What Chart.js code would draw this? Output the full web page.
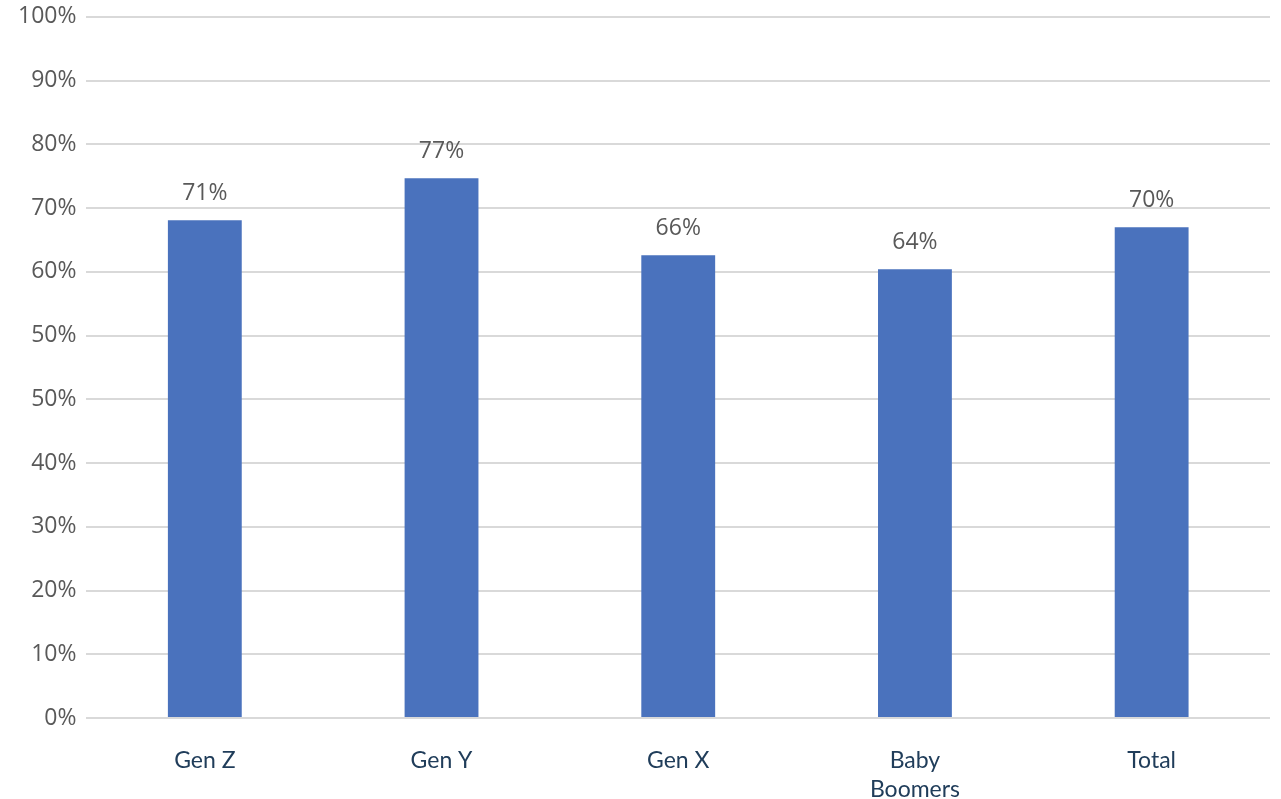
<!DOCTYPE html>
<html>
<head>
<meta charset="utf-8">
<script src="https://cdn.jsdelivr.net/npm/chart.js@4"></script>
<style>
    html, body { margin: 0; padding: 0; background: #ffffff; }
    #wrap { width: 1281px; height: 799px; position: relative; }
</style>
</head>
<body>
<div id="wrap"><canvas id="share-chart"></canvas></div>
<script>
var generations = ["Gen Z", "Gen Y", "Gen X", ["Baby", "Boomers"], "Total"];
var shareValues = [71, 77, 66, 64, 70];
var yTickLabels = ["0%", "10%", "20%", "30%", "40%", "50%", "50%", "60%", "70%", "80%", "90%", "100%"];

document.addEventListener("DOMContentLoaded", function() {
    // value labels above each bar
    var barLabels = {
        id: "barLabels",
        afterDatasetsDraw: function(chart) {
            var ctx = chart.ctx;
            var meta = chart.getDatasetMeta(0);
            ctx.save();
            ctx.font = '23px "Open Sans"';
            ctx.fillStyle = "#595959";
            ctx.textAlign = "center";
            ctx.textBaseline = "bottom";
            meta.data.forEach(function(bar, i) {
                ctx.fillText(shareValues[i] + "%", bar.x, bar.y - 15);
            });
            ctx.restore();
        }
    };

    var ctx = document.getElementById("share-chart").getContext("2d");
    new Chart(ctx, {
        type: "bar",
        data: {
            labels: generations,
            datasets: [{
                data: shareValues,
                backgroundColor: "#4A72BD",
                borderWidth: 0,
                barPercentage: 0.312,
                categoryPercentage: 1
            }]
        },
        options: {
            responsive: true,
            maintainAspectRatio: false,
            animation: false,
            layout: {
                padding: { left: 8, right: 11, top: 0, bottom: -33 }
            },
            plugins: {
                legend: { display: false },
                tooltip: { enabled: false }
            },
            scales: {
                x: {
                    grid: { display: false, drawTicks: false },
                    border: { display: false },
                    ticks: {
                        color: "#203D5A",
                        padding: 28,
                        font: { family: "Lato", size: 23, lineHeight: 1.26 }
                    }
                },
                y: {
                    min: 0,
                    max: 100,
                    border: { display: false },
                    grid: { color: "#D9D9D9", lineWidth: 2, drawTicks: false },
                    afterBuildTicks: function(axis) {
                        var n = yTickLabels.length - 1;
                        axis.ticks = yTickLabels.map(function(label, i) {
                            return { value: axis.min + i * (axis.max - axis.min) / n };
                        });
                    },
                    ticks: {
                        color: "#595959",
                        padding: 10,
                        font: { family: "Open Sans", size: 23, lineHeight: 0.6 },
                        callback: function(value, index) {
                            return yTickLabels[index];
                        }
                    }
                }
            }
        },
        plugins: [barLabels]
    });
});
</script>
</body>
</html>
